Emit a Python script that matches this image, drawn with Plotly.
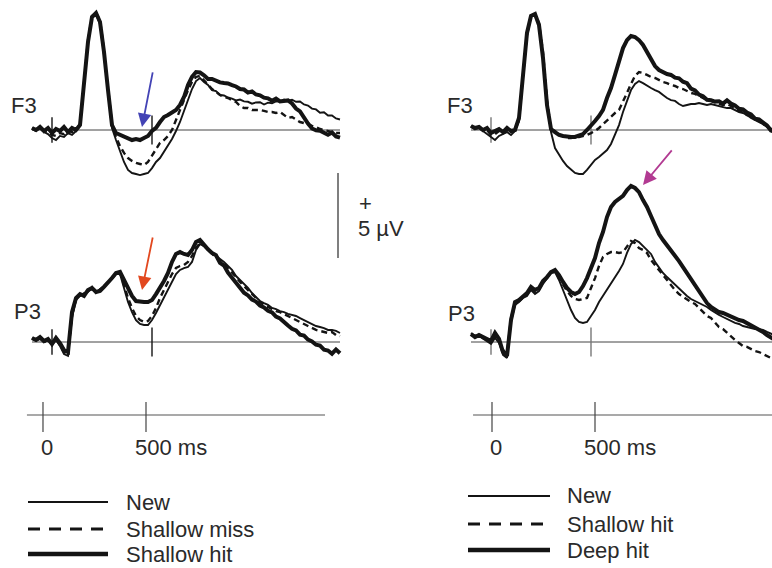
import plotly.graph_objects as go

W, H = 772, 568

# ---- time samples (ms) ----
T = list(range(-100, 1441, 20))  # 78 samples

# ---- Left panel (µV): New / Shallow miss / Shallow hit ----
L_F3_NEW = [0.06,-0.06,0.12,-0.12,-0.24,-0.47,-0.59,-0.35,-0.41,-0.18,-0.29,-0.06,
            0.24,2.94,5.06,6.59,6.82,6.24,4.41,2.12,0.12,
            -0.59,-1.29,-1.88,-2.35,-2.53,-2.59,-2.65,-2.59,-2.53,-2.24,
            -1.88,-1.65,-1.29,-0.94,-0.53,-0.06,0.47,1.12,1.82,2.41,
            2.88,3.06,2.82,2.65,2.35,2.29,2.06,2.03,1.91,1.85,
            1.74,1.79,1.68,1.66,1.55,1.62,1.63,1.50,1.61,1.57,
            1.68,1.69,1.79,1.73,1.78,1.66,1.68,1.50,1.44,1.26,
            1.21,1.02,1.04,0.85,0.86,0.68,0.62]
L_F3_SMISS = [0.12,0,0.06,-0.06,-0.12,-0.29,-0.35,-0.18,-0.24,-0.06,-0.12,0,
              0.35,2.71,5.29,6.71,6.88,6.47,4.71,2.47,0.35,
              -0.41,-0.94,-1.35,-1.65,-1.82,-1.94,-2.0,-2.06,-1.88,-1.53,
              -1.18,-0.76,-0.59,-0.35,0,0.59,1.12,1.76,2.35,2.82,
              3.12,3.18,2.94,2.65,2.41,2.24,2.06,1.94,1.88,1.76,
              1.65,1.41,1.29,1.29,1.18,1.18,1.18,1.12,1.06,1.06,
              1.0,1.06,0.88,0.71,0.76,0.59,0.47,0.41,0.35,0.24,
              0.18,0.06,0,-0.06,-0.12,-0.18,-0.18]
L_F3_SHIT = [0.12,0,0.18,-0.06,0.12,-0.18,0.06,-0.06,0.18,-0.12,0.12,0,
             0.29,2.82,5.18,6.65,6.88,6.35,4.59,2.35,0.29,
             -0.18,-0.29,-0.41,-0.47,-0.59,-0.53,-0.59,-0.47,-0.35,-0.06,
             0.12,0.47,0.76,0.88,1.06,1.18,1.47,1.94,2.65,3.12,
             3.41,3.38,3.22,3.0,3.0,2.88,2.80,2.76,2.74,2.64,
             2.56,2.41,2.38,2.20,2.27,2.09,2.04,1.90,1.86,1.72,
             1.85,1.68,1.69,1.74,1.56,1.26,1.09,0.68,0.38,0.09,
             -0.02,-0.04,-0.14,-0.28,-0.15,-0.38,-0.45]

L_P3_NEW = [0.24,0.06,0.18,0,0.12,-0.18,0.12,-0.24,-0.71,-0.82,
            1.41,2.47,2.71,2.88,2.94,3.24,2.88,3.12,3.29,3.53,3.82,4.0,4.0,
            3.18,2.35,1.76,1.29,1.06,1.0,1.0,1.29,1.71,2.18,
            2.59,3.12,3.59,4.0,4.24,4.35,4.41,4.71,5.41,5.76,
            5.65,5.41,5.24,5.06,4.88,4.71,4.47,4.24,3.88,3.65,
            3.41,3.18,2.88,2.65,2.41,2.29,2.18,2.0,1.94,1.82,
            1.76,1.65,1.59,1.53,1.41,1.29,1.18,1.06,0.94,0.88,
            0.82,0.71,0.71,0.65,0.53]
L_P3_SMISS = [0.18,0.12,0.24,0,0.06,-0.06,0.18,-0.18,-0.59,-0.76,
              1.59,2.53,2.76,2.82,3.0,3.12,2.94,3.06,3.29,3.47,3.76,4.0,4.06,
              3.35,2.59,2.0,1.53,1.29,1.18,1.24,1.53,2.0,2.59,
              3.06,3.53,4.0,4.35,4.47,4.53,4.71,5.06,5.53,5.82,
              5.65,5.41,5.18,5.0,4.76,4.59,4.35,4.12,3.82,3.53,
              3.29,3.06,2.82,2.59,2.35,2.18,2.06,1.94,1.82,1.76,
              1.65,1.53,1.41,1.29,1.18,1.06,0.94,0.82,0.71,0.65,
              0.59,0.53,0.59,0.41,0.35]
L_P3_SHIT = [0.24,0.12,0.29,0.06,0.18,-0.12,0.24,-0.06,-0.47,-0.59,
             1.76,2.59,2.82,2.71,3.06,3.18,2.94,3.0,3.24,3.47,3.76,4.06,4.12,
             3.65,3.18,2.71,2.41,2.35,2.35,2.35,2.47,2.82,3.18,
             3.59,4.06,4.71,5.18,5.29,5.18,5.12,5.41,5.88,6.0,
             5.71,5.45,5.24,5.10,4.66,4.50,4.08,3.80,3.49,3.22,
             2.90,2.74,2.49,2.38,2.14,2.03,1.84,1.74,1.49,1.38,
             1.14,0.97,0.78,0.68,0.43,0.38,0.14,0.03,-0.16,-0.21,
             -0.45,-0.50,-0.69,-0.44,-0.66]

# ---- Right panel (µV): New / Shallow hit / Deep hit ----
R_F3_NEW = [0.18,0.06,0.12,-0.06,-0.24,-0.41,-0.59,-0.35,-0.24,-0.12,-0.29,-0.06,
            0.53,3.06,5.53,6.65,6.76,6.24,4.41,1.76,-0.12,
            -1.06,-1.47,-1.82,-2.12,-2.35,-2.53,-2.59,-2.59,-2.35,-2.06,
            -1.76,-1.59,-1.41,-1.18,-0.82,-0.29,0.29,1.06,1.76,2.35,
            2.71,2.88,2.76,2.59,2.47,2.35,2.24,2.06,1.88,1.76,
            1.71,1.53,1.41,1.47,1.53,1.53,1.59,1.53,1.47,1.53,
            1.47,1.41,1.35,1.29,1.29,1.18,1.06,1.0,0.88,0.71,
            0.59,0.47,0.35,0.18,0.06,-0.06,-0.12]
R_F3_SHIT = [0.24,0.06,0.18,-0.06,0,-0.29,-0.24,-0.06,-0.18,0,-0.12,0,
             0.59,3.12,5.65,6.71,6.82,6.29,4.59,1.76,0,
             -0.06,-0.24,-0.35,-0.47,-0.47,-0.41,-0.41,-0.35,-0.29,-0.18,
             -0.06,0.12,0.35,0.59,0.76,1.0,1.18,1.65,2.18,2.71,
             3.18,3.41,3.35,3.24,3.12,3.06,2.94,2.82,2.76,2.65,
             2.59,2.47,2.41,2.29,2.18,2.12,2.0,1.88,1.76,1.71,
             1.65,1.53,1.47,1.53,1.41,1.29,1.12,1.06,0.88,0.82,
             0.65,0.53,0.35,0.24,0.06,-0.06,-0.12]
R_F3_DEEP = [0.24,0.12,0.18,0,0.12,-0.18,-0.06,0.06,-0.12,0.12,-0.06,0,
             0.71,3.24,5.71,6.71,6.82,6.18,4.24,1.47,0.06,
             -0.12,-0.29,-0.35,-0.41,-0.41,-0.41,-0.35,-0.24,0,0.24,
             0.53,0.82,1.18,1.88,2.47,3.24,4.12,4.82,5.29,5.53,
             5.47,5.29,5.0,4.59,4.12,3.76,3.53,3.41,3.29,3.24,
             3.08,3.04,2.84,2.75,2.43,2.33,2.08,1.98,1.78,1.75,
             1.67,1.69,1.55,1.74,1.55,1.44,1.25,1.21,1.02,0.92,
             0.67,0.62,0.43,0.27,-0.03,-0.09,-0.21]

R_P3_NEW = [0.53,0.35,0.35,0.18,0.06,-0.12,0.24,-0.06,-0.76,-0.94,
            1.18,2.18,2.35,2.59,2.71,3.06,2.82,3.0,3.41,3.71,4.06,
            4.12,3.65,3.06,2.47,1.88,1.41,1.18,1.12,1.18,1.53,
            1.88,2.35,2.71,3.06,3.41,3.82,4.18,4.59,5.24,5.76,
            6.0,5.88,5.65,5.41,5.18,4.71,4.35,4.06,3.82,3.59,
            3.35,3.12,2.94,2.71,2.53,2.41,2.29,2.18,2.06,1.88,
            1.71,1.59,1.47,1.35,1.24,1.12,1.06,0.94,0.88,0.82,
            0.76,0.76,0.71,0.59,0.47,0.35,0.29]
R_P3_SHIT = [0.41,0.35,0.47,0.24,0.29,0,0.41,0.06,-0.47,-0.71,
             1.41,2.29,2.41,2.65,2.82,3.18,2.94,3.12,3.53,3.76,4.12,
             4.12,3.76,3.35,3.0,2.71,2.53,2.47,2.53,2.59,3.18,
             3.76,4.47,5.0,5.18,5.29,5.29,5.24,5.29,5.65,5.94,
             5.82,5.53,5.41,5.24,4.82,4.53,4.18,3.88,3.59,3.35,
             3.06,2.82,2.65,2.53,2.35,2.24,2.0,1.71,1.53,1.41,
             1.12,0.88,0.76,0.53,0.35,0.12,-0.06,-0.24,-0.29,-0.41,
             -0.53,-0.59,-0.71,-0.82,-0.94,-1.06,-1.12]
R_P3_DEEP = [0.47,0.29,0.41,0.29,0.18,0.06,0.53,0.18,-0.59,-0.82,
             1.29,2.35,2.47,2.71,2.88,3.24,3.06,3.18,3.59,3.82,4.12,
             4.24,3.94,3.53,3.18,2.94,2.82,2.94,3.29,3.76,4.35,
             4.94,5.82,6.47,7.35,7.94,8.24,8.41,8.59,8.94,9.18,
             9.06,8.82,8.35,7.94,7.41,6.82,6.35,6.0,5.71,5.41,
             5.12,4.76,4.41,4.06,3.65,3.29,2.94,2.59,2.29,2.06,
             1.88,1.76,1.71,1.59,1.47,1.41,1.29,1.24,1.12,0.94,
             0.82,0.71,0.59,0.41,0.24,0.12,0.06]

for arr in (L_F3_NEW, L_F3_SMISS, L_F3_SHIT, L_P3_NEW, L_P3_SMISS, L_P3_SHIT,
            R_F3_NEW, R_F3_SHIT, R_F3_DEEP, R_P3_NEW, R_P3_SHIT, R_P3_DEEP):
    assert len(arr) == len(T), len(arr)

# scale markers
TIME_TICKS = [0, 500]
TIME_LABELS = ["0", "500 ms"]
SCALE_UV = 5.0
SCALE_BASE_UV = 4.94
SCALE_T = 1430
TBAR_LEFT = [-78, 1369]
TBAR_RIGHT = [-92, 1440]
BASE_T = [-100, 1440]

LEFT_NAMES = ["New", "Shallow miss", "Shallow hit"]
RIGHT_NAMES = ["New", "Shallow hit", "Deep hit"]

INK = "#141414"
FONT = "Liberation Sans, Arial, sans-serif"
TXT = "#2a2a2a"
STYLES = [dict(width=1.9, dash="solid"),
          dict(width=2.4, dash="6px,4px"),
          dict(width=4.0, dash="solid")]


def px(x):
    return x / W


def py(y):
    return 1 - y / H


fig = go.Figure()


def add_panel(xa, ya, series, names, tick_col):
    fig.add_trace(go.Scatter(x=BASE_T, y=[0, 0], xaxis=xa, yaxis=ya, mode="lines",
                             line=dict(color="#444444", width=1), showlegend=False,
                             hoverinfo="skip"))
    fig.add_trace(go.Scatter(x=[TIME_TICKS[0], TIME_TICKS[0], None, TIME_TICKS[1], TIME_TICKS[1]],
                             y=[-0.75, 0.75, None, -0.85, 0.85], xaxis=xa, yaxis=ya,
                             mode="lines", line=dict(color=tick_col, width=1.4),
                             showlegend=False, hoverinfo="skip"))
    for arr, name, st in zip(series, names, STYLES):
        fig.add_trace(go.Scatter(x=T, y=arr, xaxis=xa, yaxis=ya, mode="lines", name=name,
                                 line=dict(color=INK, width=st["width"], dash=st["dash"]),
                                 showlegend=False))


add_panel("x", "y", [L_F3_NEW, L_F3_SMISS, L_F3_SHIT], LEFT_NAMES, INK)
add_panel("x", "y2", [L_P3_NEW, L_P3_SMISS, L_P3_SHIT], LEFT_NAMES, INK)
add_panel("x2", "y", [R_F3_NEW, R_F3_SHIT, R_F3_DEEP], RIGHT_NAMES, "#777777")
add_panel("x2", "y2", [R_P3_NEW, R_P3_SHIT, R_P3_DEEP], RIGHT_NAMES, "#777777")

# amplitude scale bar
fig.add_trace(go.Scatter(x=[SCALE_T, SCALE_T], y=[SCALE_BASE_UV, SCALE_BASE_UV + SCALE_UV],
                         xaxis="x", yaxis="y2", mode="lines",
                         line=dict(color="#555555", width=1.5), showlegend=False,
                         hoverinfo="skip"))

# time scale bars
for xa, bar in (("x3", TBAR_LEFT), ("x4", TBAR_RIGHT)):
    fig.add_trace(go.Scatter(x=bar, y=[0, 0], xaxis=xa, yaxis="y3", mode="lines",
                             line=dict(color="#555555", width=1.2), showlegend=False,
                             hoverinfo="skip"))
    fig.add_trace(go.Scatter(x=[TIME_TICKS[0], TIME_TICKS[0], None, TIME_TICKS[1], TIME_TICKS[1]],
                             y=[0.65, -0.85, None, 0.65, -0.85], xaxis=xa, yaxis="y3",
                             mode="lines", line=dict(color="#444444", width=1.2),
                             showlegend=False, hoverinfo="skip"))

hidden = dict(visible=False, fixedrange=True)
fig.update_layout(
    width=W, height=H, margin=dict(l=0, r=0, t=0, b=0),
    paper_bgcolor="white", plot_bgcolor="rgba(0,0,0,0)",
    xaxis=dict(domain=[px(20), px(345)], range=[-160, 1465], anchor="y", **hidden),
    xaxis2=dict(domain=[px(455), 1], range=[-180, 1405], anchor="y", **hidden),
    xaxis3=dict(domain=[0, px(360)], range=[-208.7, 1538.8], anchor="y3", **hidden),
    xaxis4=dict(domain=[px(420), 1], range=[-349.5, 1359.2], anchor="y3", **hidden),
    yaxis=dict(domain=[py(190), py(0)], range=[-60 / 17, 130 / 17], anchor="x", **hidden),
    yaxis2=dict(domain=[py(370), py(160)], range=[-28 / 17, 182 / 17], anchor="x", **hidden),
    yaxis3=dict(domain=[py(435), py(395)], range=[-1, 1], anchor="x3", **hidden),
    showlegend=False,
)

ann = []
f = dict(family=FONT, size=22, color=TXT)
for txt, x, y in (("F3", 24, 105), ("P3", 27, 311), ("F3", 460, 105), ("P3", 461, 313)):
    ann.append(dict(text=txt, x=px(x), y=py(y), xref="paper", yref="paper",
                    showarrow=False, font=f, xanchor="center", yanchor="middle"))
ann.append(dict(text="+", x=px(357), y=py(203), xref="paper", yref="paper", showarrow=False,
                font=f, xanchor="left", yanchor="middle"))
ann.append(dict(text="5 µV", x=px(356), y=py(228), xref="paper", yref="paper", showarrow=False,
                font=f, xanchor="left", yanchor="middle"))
for xa in ("x3", "x4"):
    ann.append(dict(text=TIME_LABELS[0], x=TIME_TICKS[0], xref=xa, y=py(448), yref="paper",
                    xshift=4, showarrow=False, font=f, xanchor="center", yanchor="middle"))
    ann.append(dict(text=TIME_LABELS[1], x=TIME_TICKS[1], xref=xa, y=py(448), yref="paper",
                    xshift=-13, showarrow=False, font=f, xanchor="left", yanchor="middle"))

# legends (keys drawn as shapes, labels as text)
shapes = []
leg_widths = [1.8, 3.2, 4.4]
leg_dash = ["solid", "12px,9px", "solid"]
for names, x0, x1, xt, rows in ((LEFT_NAMES, 28, 108, 124, [502, 529, 554]),
                                (RIGHT_NAMES, 468, 550, 565, [496, 524, 550])):
    for name, yy, lw, dd in zip(names, rows, leg_widths, leg_dash):
        shapes.append(dict(type="line", xref="paper", yref="paper", x0=px(x0), x1=px(x1),
                           y0=py(yy), y1=py(yy), line=dict(color=INK, width=lw, dash=dd)))
        ann.append(dict(text=name, x=px(xt), y=py(yy), xref="paper", yref="paper",
                        showarrow=False, font=f, xanchor="left", yanchor="middle"))

# arrows
for x, y, xr, yr, ax, ay, col in ((450, 0.18, "x", "y", 11, -56, "#4343b5"),
                                  (450, 3.06, "x", "y2", 11, -54, "#e2481f"),
                                  (760, 9.24, "x2", "y2", 30, -36, "#b23a92")):
    ann.append(dict(x=x, y=y, xref=xr, yref=yr, ax=ax, ay=ay, text="", showarrow=True,
                    arrowhead=2, arrowsize=1.5, arrowwidth=1.8, arrowcolor=col))

fig.update_layout(annotations=ann, shapes=shapes)
fig.write_html("out.html")
